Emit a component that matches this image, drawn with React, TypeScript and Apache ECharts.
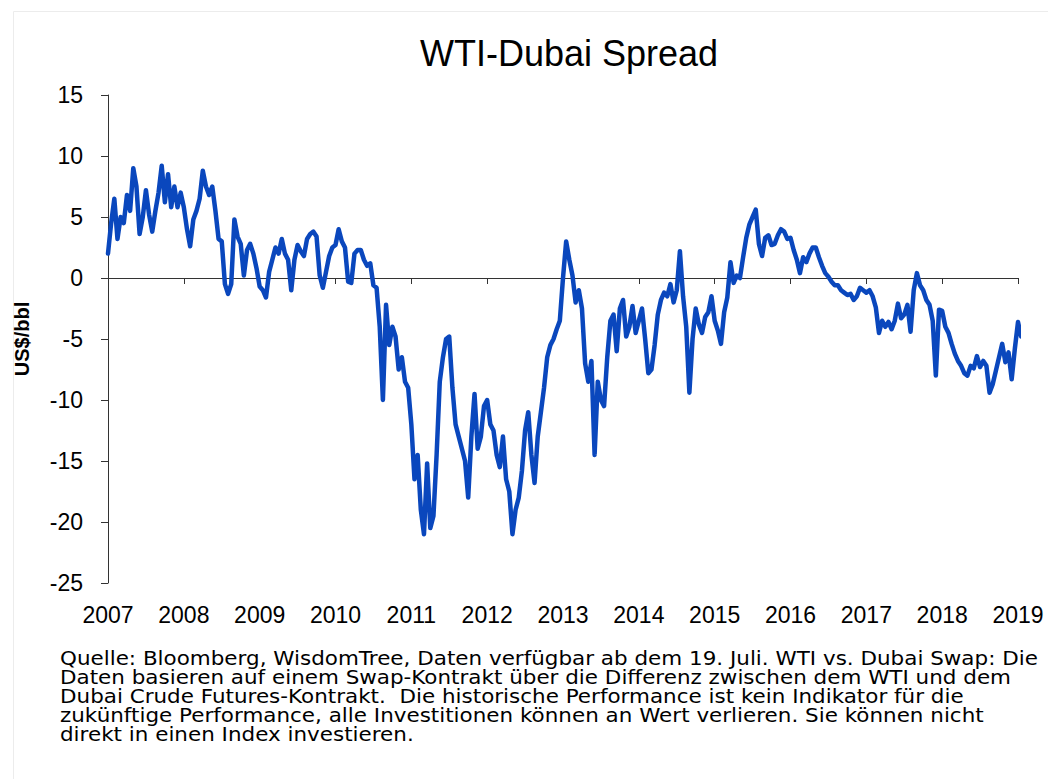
import React, { useEffect, useRef } from "react";
import * as echarts from "echarts";

// Semi-monthly readings of the WTI-Dubai spread (US$/bbl), 24 per year
const v2007 = [2.0, 4.5, 6.5, 3.2, 5.0, 4.5, 6.8, 5.5, 9.0, 7.5, 3.6, 5.0, 7.2, 5.2, 3.8, 5.5, 7.0, 9.2, 6.2, 8.5, 5.8, 7.5, 5.8, 7.0];
const v2008 = [5.8, 4.0, 2.6, 4.8, 5.5, 6.5, 8.8, 7.5, 6.8, 7.5, 5.5, 3.2, 3.0, -0.5, -1.3, -0.5, 4.8, 3.4, 2.8, 0.2, 2.3, 2.8, 2.0, 0.8];
const v2009 = [-0.7, -1.0, -1.6, 0.5, 1.5, 2.5, 2.0, 3.2, 2.0, 1.5, -1.0, 1.5, 2.7, 2.2, 1.8, 3.2, 3.6, 3.8, 3.4, 0.2, -0.8, 0.5, 1.8, 2.5];
const v2010 = [2.7, 4.0, 3.0, 2.5, -0.3, -0.4, 2.0, 2.3, 2.3, 1.5, 1.0, 1.2, -0.6, -0.8, -4.0, -10.0, -2.2, -5.5, -4.0, -4.8, -7.5, -6.5, -8.5, -9.0];
const v2011 = [-12.0, -16.5, -14.5, -19.0, -21.0, -15.2, -20.5, -19.5, -14.5, -8.5, -6.5, -5.0, -4.8, -9.0, -12.0, -13.0, -14.0, -15.0, -18.0, -13.0, -9.5, -14.0, -13.0, -10.5];
const v2012 = [-10.0, -12.0, -12.5, -14.5, -15.5, -13.0, -16.5, -17.5, -21.0, -19.0, -18.0, -15.8, -12.5, -11.0, -14.5, -16.8, -13.0, -11.0, -9.0, -6.5, -5.5, -5.0, -4.2, -3.5];
const v2013 = [0.0, 3.0, 1.5, 0.2, -2.0, -1.0, -2.5, -7.0, -8.5, -6.8, -14.5, -8.5, -10.0, -10.5, -6.5, -3.5, -3.0, -6.0, -2.5, -1.8, -4.8, -4.0, -2.3, -4.5];
const v2014 = [-3.5, -2.5, -5.0, -7.8, -7.5, -5.5, -3.0, -1.8, -1.2, -1.5, -0.5, -2.0, -1.0, 2.2, -1.5, -4.0, -9.4, -5.0, -2.5, -3.8, -4.5, -3.2, -2.8, -1.5];
const v2015 = [-3.5, -4.3, -5.4, -2.8, -1.6, 1.3, -0.4, 0.2, 0.0, 1.7, 3.3, 4.4, 5.0, 5.6, 2.8, 1.8, 3.3, 3.5, 2.7, 2.8, 3.5, 4.0, 3.8, 3.2];
const v2016 = [3.3, 2.3, 1.5, 0.4, 1.7, 1.3, 2.0, 2.5, 2.5, 1.7, 1.0, 0.4, 0.1, -0.3, -0.6, -0.6, -1.0, -1.2, -1.4, -1.3, -1.8, -1.5, -0.8, -1.0];
const v2017 = [-1.2, -1.0, -1.5, -2.4, -4.5, -3.5, -4.0, -3.6, -4.2, -3.5, -2.1, -3.3, -3.0, -2.2, -4.4, -1.0, 0.4, -0.6, -1.0, -1.8, -2.2, -3.5, -8.0, -2.6];
const v2018 = [-2.7, -4.0, -4.5, -5.4, -6.2, -6.8, -7.2, -7.8, -8.0, -7.2, -7.4, -6.4, -7.3, -6.8, -7.2, -9.4, -8.7, -7.6, -6.5, -5.4, -6.9, -6.1, -8.3, -5.8];
const v2019 = [-3.6, -4.8];

const years = [2007, 2008, 2009, 2010, 2011, 2012, 2013, 2014, 2015, 2016, 2017, 2018, 2019];
const yearValues = [v2007, v2008, v2009, v2010, v2011, v2012, v2013, v2014, v2015, v2016, v2017, v2018, v2019];
const pointsPerYear = 24;

const titleText = "WTI-Dubai Spread";
const yAxisName = "US$/bbl";
const footnoteLines = [
  "Quelle: Bloomberg, WisdomTree, Daten verfügbar ab dem 19. Juli. WTI vs. Dubai Swap: Die",
  "Daten basieren auf einem Swap-Kontrakt über die Differenz zwischen dem WTI und dem",
  "Dubai Crude Futures-Kontrakt.  Die historische Performance ist kein Indikator für die",
  "zukünftige Performance, alle Investitionen können an Wert verlieren. Sie können nicht",
  "direkt in einen Index investieren.",
];

export default function App() {
  const ref = useRef<HTMLDivElement>(null);
  useEffect(() => {
    if (!ref.current) return;
    const chart = echarts.init(ref.current, null, { renderer: "svg" });
    const data: [number, number][] = [];
    years.forEach((yr, k) => {
      yearValues[k].forEach((v, i) => data.push([yr + i / pointsPerYear, v]));
    });
    const labelFont = "Liberation Sans, Arial, sans-serif";
    chart.setOption({
      animation: false,
      backgroundColor: "#ffffff",
      title: {
        text: titleText,
        left: 564,
        top: 30,
        textAlign: "center",
        textStyle: { fontFamily: labelFont, fontSize: 36, fontWeight: "normal", color: "#000" },
      },
      grid: { left: 108, right: 30, top: 95, bottom: 196, containLabel: false },
      xAxis: [
        {
          type: "value",
          min: 2007,
          max: 2019,
          interval: 1,
          position: "bottom",
          axisLine: { show: false, onZero: false },
          axisTick: { show: false },
          splitLine: { show: false },
          axisLabel: {
            show: true,
            margin: 20,
            fontSize: 23,
            fontFamily: labelFont,
            color: "#000",
            formatter: (v: number) => String(v),
          },
        },
        {
          type: "value",
          min: 2007,
          max: 2019,
          interval: 1,
          position: "bottom",
          axisLine: { show: true, onZero: true, lineStyle: { color: "#333", width: 1 } },
          axisTick: { show: true, length: 6, lineStyle: { color: "#333" } },
          axisLabel: { show: false },
          splitLine: { show: false },
        },
      ],
      yAxis: {
        type: "value",
        min: -25,
        max: 15,
        interval: 5,
        name: yAxisName,
        nameLocation: "middle",
        nameGap: 76,
        nameTextStyle: { fontFamily: labelFont, fontSize: 20, fontWeight: "bold", color: "#000" },
        axisLine: { show: true, lineStyle: { color: "#333", width: 1 } },
        axisTick: { show: true, length: 7, lineStyle: { color: "#333" } },
        splitLine: { show: false },
        axisLabel: { margin: 25, fontSize: 23, fontFamily: labelFont, color: "#000" },
      },
      series: [
        {
          type: "line",
          xAxisIndex: 1,
          data,
          showSymbol: false,
          symbol: "none",
          clip: false,
          lineStyle: { color: "#0a47bd", width: 4.5, join: "round", cap: "round" },
          itemStyle: { color: "#0a47bd" },
        },
      ],
      graphic: [
        {
          type: "rect",
          shape: { x: 13.5, y: 11.5, width: 1040, height: 775 },
          style: { fill: "none", stroke: "#ececec", lineWidth: 1 },
          silent: true,
        },
        {
          type: "text",
          x: 60,
          y: 649,
          scaleX: 1.13,
          scaleY: 1,
          style: {
            text: footnoteLines.join("\n"),
            fontFamily: "DejaVu Sans, sans-serif",
            fontSize: 19,
            lineHeight: 19,
            fill: "#000",
            textVerticalAlign: "top",
            verticalAlign: "top",
          },
        },
      ],
    });
    return () => chart.dispose();
  }, []);
  return (
    <div
      ref={ref}
      style={{ position: "absolute", left: 0, top: 0, width: 1048, height: 779 }}
    />
  );
}
